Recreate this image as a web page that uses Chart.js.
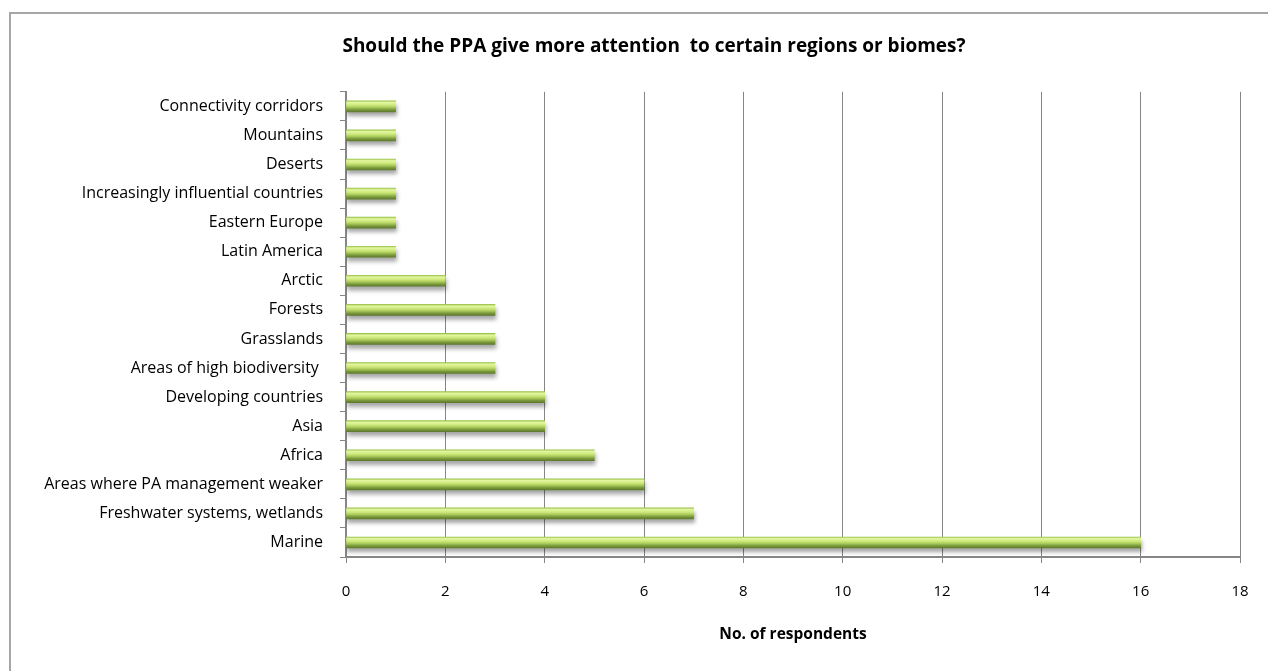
<!DOCTYPE html>
<html>
<head>
<meta charset="utf-8">
<script src="https://cdn.jsdelivr.net/npm/chart.js@4.4.0/dist/chart.umd.min.js"></script>
<style>
    html, body { margin: 0; padding: 0; background: #fff; overflow: hidden; }
    #wrap { position: relative; width: 1268px; height: 671px; }
    #frame { position: absolute; left: 9px; top: 12px; width: 1300px; height: 700px; border: 2px solid #a6a6a6; box-sizing: border-box; }
    canvas { position: absolute; left: 0; top: 0; }
</style>
</head>
<body>
<div id="wrap">
    <div id="frame"></div>
    <canvas id="biomeChart" width="1268" height="671"></canvas>
</div>
<script>
const categories = [
    'Connectivity corridors',
    'Mountains',
    'Deserts',
    'Increasingly influential countries',
    'Eastern Europe',
    'Latin America',
    'Arctic',
    'Forests',
    'Grasslands',
    'Areas of high biodiversity ',
    'Developing countries',
    'Asia',
    'Africa',
    'Areas where PA management weaker',
    'Freshwater systems, wetlands',
    'Marine'
];
const respondents = [1, 1, 1, 1, 1, 1, 2, 3, 3, 3, 4, 4, 5, 6, 7, 16];
const xTicks = [0, 2, 4, 6, 8, 10, 12, 14, 16, 18];

const labelFont = '"Open Sans", Lato, sans-serif';
const gridGray = '#868686';

// Excel-style glossy green bar: gradient across the bar thickness
function barFill(context) {
    const chart = context.chart;
    const yScale = chart.scales.y;
    if (!yScale || yScale.top === undefined) return '#b5d654';
    const cy = yScale.getPixelForValue(context.dataIndex);
    const g = chart.ctx.createLinearGradient(0, cy - 5.5, 0, cy + 5.5);
    g.addColorStop(0, '#9cc34c');
    g.addColorStop(0.15, '#e3f7a0');
    g.addColorStop(0.4, '#cce77a');
    g.addColorStop(0.6, '#a9c95a');
    g.addColorStop(0.8, '#7b9a3c');
    g.addColorStop(1, '#5e7a2c');
    return g;
}

// soft drop shadow under the bars
const barShadow = {
    id: 'barShadow',
    beforeDatasetsDraw(chart) {
        const ctx = chart.ctx;
        ctx.save();
        ctx.shadowColor = 'rgba(0, 0, 0, 0.35)';
        ctx.shadowBlur = 4;
        ctx.shadowOffsetX = 1;
        ctx.shadowOffsetY = 4;
    },
    afterDatasetsDraw(chart) {
        chart.ctx.restore();
    }
};

new Chart(document.getElementById('biomeChart').getContext('2d'), {
    type: 'bar',
    data: {
        labels: categories,
        datasets: [{
            label: 'No. of respondents',
            data: respondents,
            backgroundColor: barFill,
            borderWidth: 0,
            barThickness: 11
        }]
    },
    plugins: [barShadow],
    options: {
        indexAxis: 'y',
        responsive: false,
        animation: false,
        layout: { padding: { left: 40, right: 0, top: 0, bottom: 0 } },
        plugins: {
            legend: { display: false },
            tooltip: { enabled: false },
            title: {
                display: true,
                text: 'Should the PPA give more attention  to certain regions or biomes?',
                color: '#000',
                font: { family: labelFont, size: 19, weight: 'bold', lineHeight: 1.2 },
                padding: { top: 35, bottom: 34 }
            }
        },
        scales: {
            x: {
                min: 0,
                max: 18,
                afterBuildTicks: (scale) => { scale.ticks = xTicks.map(v => ({ value: v })); },
                afterFit: (scale) => { scale.height = 114; scale.paddingRight = 28; },
                grid: { color: gridGray, lineWidth: 1, tickLength: 6, drawOnChartArea: true },
                border: { color: gridGray, width: 2 },
                ticks: { color: '#000', font: { family: labelFont, size: 15 }, padding: 20 },
                title: {
                    display: true,
                    text: 'No. of respondents',
                    color: '#000',
                    font: { family: labelFont, size: 15.5, weight: 'bold', lineHeight: 1.2 },
                    padding: { top: 0, bottom: 27 }
                }
            },
            y: {
                afterFit: (scale) => { scale.width = 306; },
                grid: { offset: true, drawOnChartArea: false, color: gridGray, tickLength: 6 },
                border: { color: gridGray, width: 2 },
                ticks: { color: '#000', font: { family: labelFont, size: 16 }, padding: 17, autoSkip: false }
            }
        }
    }
});
</script>
</body>
</html>
